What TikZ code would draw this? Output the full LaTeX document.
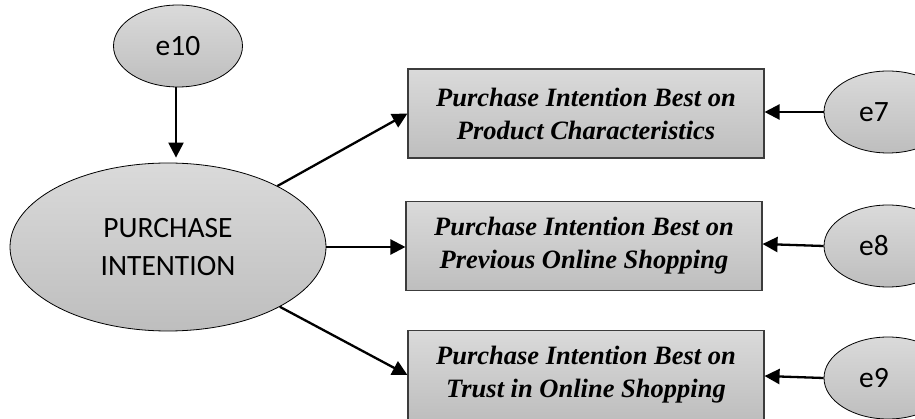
\documentclass[tikz,border=0pt]{standalone}
\usepackage{fontspec}
\setmainfont{Liberation Serif}
\newfontfamily\carlitofont{Carlito}
\usetikzlibrary{shapes.geometric,arrows.meta}
\definecolor{gtop}{RGB}{218,218,218}
\definecolor{gbot}{RGB}{190,190,190}
\definecolor{bordergray}{RGB}{60,60,60}
\begin{document}
\begin{tikzpicture}[x=1pt,y=-1pt,
  latent/.style={ellipse,draw=black,line width=0.8pt,top color=gtop,bottom color=gbot,inner sep=0pt,font=\carlitofont\fontsize{29.5}{38}\selectfont,align=center},
  obs/.style={rectangle,draw=bordergray,line width=1.1pt,top color=gtop,bottom color=gbot,minimum width=356pt,minimum height=89pt,inner sep=0pt,align=center,font=\bfseries\itshape\fontsize{26.5}{33}\selectfont},
  arr/.style={line width=2.3pt,-{Triangle[length=15pt,width=15pt]}}]
\useasboundingbox (0,0) rectangle (915,419);
\clip (0,0) rectangle (915,419);
\node[latent,minimum width=129pt,minimum height=82pt] (e10) at (178,46) {e10};
\node[latent,minimum width=316pt,minimum height=168pt] (pi) at (168,247) {PURCHASE\\INTENTION};
\node[obs] (b1) at (586,113.5) {Purchase Intention Best on\\Product Characteristics};
\node[obs] (b2) at (584,246) {Purchase Intention Best on\\Previous Online Shopping};
\node[obs] (b3) at (586,375) {Purchase Intention Best on\\Trust in Online Shopping};
\node[latent,minimum width=128pt,minimum height=82pt] (e7) at (888,112) {e7\hspace*{28pt}};
\node[latent,minimum width=128pt,minimum height=82pt] (e8) at (888,246) {e8\hspace*{28pt}};
\node[latent,minimum width=128pt,minimum height=82pt] (e9) at (888,378) {e9\hspace*{28pt}};
\draw[arr] (e10.south -| 176,0) -- ([yshift=5pt]pi.north -| 176,0);
\draw[arr] (pi) -- (b1.west);
\draw[arr] (pi.east) -- (b2.west |- pi.east);
\draw[arr] (pi) -- (b3.west);
\draw[arr] (e7.west) -- (b1.east |- e7.west);
\draw[arr] (e8.west) -- ([yshift=2pt]b2.east);
\draw[arr] (e9.west) -- ([yshift=2pt]b3.east |- e9.west);
\end{tikzpicture}
\end{document}
